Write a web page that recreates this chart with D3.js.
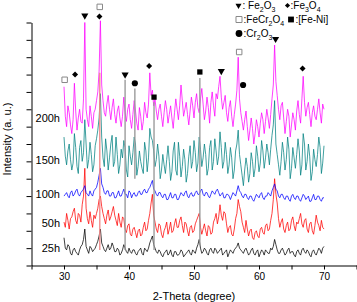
<!DOCTYPE html>
<html>
<head>
<meta charset="utf-8">
<script src="https://cdn.jsdelivr.net/npm/d3@7"></script>
<style>
  html, body { margin: 0; padding: 0; background: #fff; }
  svg { display: block; font-family: "Liberation Sans", Arial, sans-serif; }
</style>
</head>
<body>
<svg id="chart" width="357" height="302"></svg>
<script>
// XRD patterns after milling, five durations stacked with offsets.
const W = 357;
const H = 302;
const X_LEFT = 31.5;
const X_RIGHT = 356.5;
const Y_BOTTOM = 265.5;
const Y_TOP = 22.5;

// 2-theta sampling grid (deg), 30..70 every 0.2
const twoTheta = d3.range(201).map((i) => +(30 + 0.2 * i).toFixed(1));

// intensities (a.u., stacking offset included)
const i25h = [
  16, 10, 9, 12, 11, 7, 6, 9, 10, 8, 7, 6, 9, 11, 12, 15, 21, 11, 9, 7,
  11, 10, 8, 9, 10, 12, 14, 17, 21, 13, 11, 9, 8, 10, 12, 9, 10, 13, 11, 8,
  8, 10, 9, 6, 7, 9, 12, 10, 8, 7, 10, 8, 7, 9, 9, 7, 6, 8, 9, 10,
  7, 6, 10, 9, 8, 10, 13, 15, 17, 12, 10, 8, 7, 9, 8, 6, 5, 7, 8, 9,
  6, 7, 9, 6, 5, 8, 8, 6, 6, 7, 9, 8, 5, 6, 7, 8, 9, 7, 6, 9,
  8, 7, 10, 12, 15, 10, 7, 8, 10, 9, 7, 6, 9, 10, 8, 7, 10, 9, 7, 8,
  9, 10, 6, 7, 8, 9, 5, 7, 9, 8, 7, 9, 10, 11, 13, 10, 9, 8, 7, 9,
  10, 8, 6, 7, 9, 10, 7, 6, 8, 9, 5, 7, 9, 8, 6, 9, 8, 7, 7, 10,
  9, 11, 15, 12, 9, 7, 7, 9, 10, 8, 6, 7, 9, 10, 7, 8, 8, 6, 5, 8,
  9, 7, 6, 9, 10, 8, 7, 9, 8, 6, 5, 8, 9, 7, 6, 8, 10, 9, 7, 10, 11
];
const i50h = [
  25, 22, 30, 26, 21, 27, 28, 31, 33, 26, 24, 30, 29, 25, 35, 40, 56, 33, 27, 24,
  31, 26, 22, 29, 27, 30, 33, 38, 40, 34, 30, 27, 24, 29, 32, 26, 28, 31, 34, 29,
  26, 23, 30, 25, 22, 28, 27, 21, 19, 23, 24, 18, 17, 21, 22, 19, 16, 20, 21, 17,
  18, 22, 25, 20, 21, 26, 30, 36, 41, 29, 25, 21, 19, 24, 23, 18, 16, 20, 22, 25,
  18, 21, 25, 19, 20, 24, 27, 22, 22, 26, 28, 23, 19, 25, 24, 20, 17, 22, 23, 19,
  20, 24, 26, 28, 30, 22, 18, 21, 24, 20, 17, 23, 22, 18, 19, 25, 27, 30, 24, 28,
  35, 29, 26, 31, 30, 24, 19, 22, 23, 18, 17, 21, 27, 30, 38, 34, 31, 25, 22, 19,
  26, 21, 17, 20, 21, 16, 15, 19, 20, 17, 16, 21, 22, 19, 18, 23, 24, 20, 21, 26,
  30, 38, 50, 41, 36, 27, 22, 25, 27, 21, 19, 23, 25, 20, 21, 26, 28, 23, 20, 25,
  24, 27, 30, 24, 22, 26, 27, 21, 19, 24, 25, 20, 18, 23, 29, 25, 23, 20, 26, 22, 21
];
const i100h = [
  40, 41, 42, 40, 39, 42, 43, 40, 41, 43, 44, 41, 40, 42, 43, 44, 46, 42, 41, 40,
  43, 41, 40, 43, 44, 45, 48, 52, 56, 47, 45, 42, 41, 43, 43, 40, 40, 42, 42, 39,
  39, 41, 43, 40, 40, 42, 44, 41, 41, 39, 43, 42, 39, 41, 42, 40, 40, 42, 43, 41,
  41, 43, 44, 42, 42, 44, 45, 47, 49, 44, 43, 41, 40, 42, 42, 40, 39, 41, 41, 38,
  38, 40, 42, 39, 39, 41, 41, 38, 38, 40, 42, 41, 40, 42, 43, 40, 39, 41, 42, 40,
  40, 42, 43, 41, 41, 43, 44, 41, 40, 42, 42, 40, 39, 41, 43, 42, 41, 43, 44, 42,
  40, 41, 42, 39, 39, 41, 41, 40, 38, 40, 42, 41, 40, 43, 46, 43, 42, 40, 39, 41,
  41, 39, 38, 40, 40, 38, 37, 39, 41, 40, 39, 41, 42, 39, 38, 40, 40, 42, 41, 40,
  43, 45, 47, 44, 43, 40, 39, 41, 41, 39, 38, 40, 40, 38, 37, 40, 41, 39, 38, 40,
  40, 38, 37, 39, 41, 40, 38, 39, 40, 37, 37, 39, 41, 38, 38, 40, 40, 38, 37, 39, 39
];
const i150h = [
  74, 63, 58, 66, 70, 61, 55, 59, 76, 68, 57, 53, 68, 72, 60, 65, 84, 70, 56, 61,
  71, 64, 54, 58, 69, 73, 78, 85, 99, 74, 62, 57, 73, 66, 55, 62, 70, 75, 57, 60,
  74, 64, 53, 58, 67, 62, 72, 68, 55, 51, 69, 63, 58, 65, 74, 70, 52, 57, 66, 60,
  56, 53, 71, 66, 54, 62, 79, 74, 72, 66, 57, 61, 70, 63, 50, 55, 64, 58, 53, 61,
  69, 60, 49, 54, 66, 71, 55, 52, 71, 63, 51, 57, 67, 61, 48, 53, 63, 69, 56, 60,
  72, 65, 54, 59, 74, 67, 57, 62, 70, 64, 52, 56, 68, 72, 55, 60, 73, 66, 58, 63,
  77, 68, 56, 60, 71, 64, 53, 58, 68, 62, 50, 55, 66, 70, 78, 64, 58, 52, 46, 55,
  62, 57, 48, 53, 65, 60, 51, 56, 69, 63, 54, 59, 72, 66, 56, 62, 70, 65, 58, 67,
  75, 81, 95, 70, 64, 58, 52, 60, 71, 65, 55, 61, 74, 67, 50, 56, 68, 62, 56, 64,
  73, 66, 52, 58, 76, 70, 55, 60, 70, 63, 49, 54, 67, 61, 57, 64, 74, 68, 53, 59, 69
];
const i200h = [
  103, 86, 80, 92, 88, 81, 76, 84, 105, 89, 78, 85, 90, 83, 82, 96, 140, 90, 84, 80,
  92, 86, 79, 88, 90, 95, 100, 112, 141, 104, 95, 88, 86, 93, 98, 90, 84, 91, 96, 87,
  82, 89, 92, 85, 80, 86, 97, 88, 83, 90, 93, 84, 79, 87, 95, 89, 82, 78, 91, 86,
  78, 83, 94, 88, 85, 93, 111, 98, 101, 92, 96, 89, 84, 90, 93, 86, 80, 88, 95, 90,
  82, 87, 92, 85, 79, 88, 96, 90, 84, 92, 104, 95, 86, 90, 94, 87, 81, 89, 97, 92,
  85, 94, 99, 91, 88, 96, 102, 93, 84, 89, 97, 91, 82, 94, 100, 92, 86, 99, 96, 103,
  109, 97, 90, 94, 98, 88, 83, 91, 95, 86, 80, 87, 93, 101, 120, 96, 88, 83, 78, 84,
  89, 80, 72, 78, 85, 79, 70, 76, 84, 80, 74, 82, 88, 84, 76, 83, 90, 85, 79, 87,
  96, 104, 127, 106, 98, 90, 84, 92, 94, 85, 76, 83, 90, 86, 74, 81, 88, 84, 78, 89,
  95, 87, 82, 96, 109, 94, 86, 91, 94, 87, 80, 88, 92, 86, 84, 90, 96, 88, 82, 93, 90
];

const seriesNames = ["25h", "50h", "100h", "150h", "200h"];
const seriesColors = ["#000000", "#ff0000", "#0000ff", "#008080", "#ff00ff"];
const seriesValues = [i25h, i50h, i100h, i150h, i200h];

// phase markers: [symbol, 2-theta, height]
const markers = [
  ["open", 30.1, 107], ["diamond", 31.7, 110], ["tri", 33.2, 144],
  ["open", 35.5, 149], ["diamond", 35.45, 143.5], ["tri", 39.4, 110],
  ["circle", 40.9, 105], ["diamond", 43.1, 115], ["square", 43.85, 97],
  ["square", 50.9, 111.5], ["tri", 54.2, 112], ["open", 56.95, 123],
  ["circle", 57.55, 104], ["tri", 62.55, 130.5], ["diamond", 66.7, 113.5]
];

// drop lines under some peaks: [2-theta, top, bottom, colour]
const dropLines = [
  [35.5, 111, 9, "#f08a8a"],
  [39.4, 107, 9, "#999999"],
  [40.9, 102, 50, "#999999"],
  [43.85, 94, 9, "#999999"],
  [50.9, 108, 12, "#999999"]
];

// legend: symbol, text pieces as [text, isSubscript]
const legendItems = [
  ["tri", [[": Fe", 0], ["2", 1], ["O", 0], ["3", 1]]],
  ["diamond", [[":Fe", 0], ["3", 1], ["O", 0], ["4", 1]]],
  ["open", [[":FeCr", 0], ["2", 1], ["O", 0], ["4", 1]]],
  ["square", [[":[Fe-Ni]", 0]]],
  ["circle", [[":Cr", 0], ["2", 1], ["O", 0], ["3", 1]]]
];

const xTicks = d3.range(25, 76, 5);
const xTickLabels = [30, 40, 50, 60, 70];
const yTicks = d3.range(0, 141, 10);

// ---- layout ----
const LABEL_Y = [251.5, 226.5, 197.5, 164, 121.5];
const LEGEND_POS = [[238.5, 5.5, 242.5], [287.5, 5.5, 290.5], [239, 19.5, 243.5], [291, 19.5, 295.5], [239, 33.5, 243.5]];

const svg = d3.select("#chart");
const x = d3.scaleLinear().domain([25, 75]).range([X_LEFT, X_RIGHT]);
const y = d3.scaleLinear().domain([0, 140]).range([Y_BOTTOM, Y_TOP]);

const symPath = {
  tri: d3.symbol(d3.symbolTriangle, 22)(),
  diamond: d3.symbol(d3.symbolSquare, 18)(),
  open: d3.symbol(d3.symbolSquare, 30)(),
  square: d3.symbol(d3.symbolSquare, 28)(),
  circle: d3.symbol(d3.symbolCircle, 30)()
};
const symRot = { tri: 180, diamond: 45, open: 0, square: 0, circle: 0 };

function drawSymbol(g, kind, cx, cy, scale = 1) {
  g.append("path")
    .attr("d", symPath[kind])
    .attr("transform", `translate(${cx},${cy}) rotate(${symRot[kind]}) scale(${scale})`)
    .attr("fill", kind === "open" ? "#fff" : "#000")
    .attr("stroke", kind === "open" ? "#888" : "none")
    .attr("stroke-width", kind === "open" ? 1 / scale : 0);
}

// ---- traces ----
const line = d3.line()
  .x((d) => x(d[0]))
  .y((d) => y(d[1]));

svg.append("g")
  .selectAll("path")
  .data(seriesValues)
  .join("path")
  .attr("d", (vals) => line(vals.map((v, i) => [twoTheta[i], v])))
  .attr("fill", "none")
  .attr("stroke", (_, i) => seriesColors[i])
  .attr("stroke-width", 0.75)
  .attr("stroke-linejoin", "round");

// ---- drop lines ----
svg.append("g")
  .selectAll("line")
  .data(dropLines)
  .join("line")
  .attr("x1", (d) => x(d[0]))
  .attr("x2", (d) => x(d[0]))
  .attr("y1", (d) => y(d[1]))
  .attr("y2", (d) => y(d[2]))
  .attr("stroke", (d) => d[3])
  .attr("stroke-width", 1.5)
  .attr("opacity", 0.9);

// ---- axes ----
svg.append("g")
  .attr("transform", `translate(0,${Y_BOTTOM})`)
  .call(
    d3.axisBottom(x)
      .tickValues(xTicks)
      .tickFormat((d) => (xTickLabels.includes(d) ? d : ""))
      .tickSize(4)
      .tickSizeOuter(0)
  )
  .call((g) => g.attr("font-family", null))
  .call((g) => g.selectAll("text").attr("font-size", 10).attr("fill", "#000"));

svg.append("g")
  .attr("transform", `translate(${X_LEFT},0)`)
  .call(d3.axisLeft(y).tickValues(yTicks).tickFormat("").tickSize(5).tickSizeOuter(0))
  .call((g) => g.attr("font-family", null));

svg.append("text")
  .attr("x", x(50))
  .attr("y", 299.5)
  .attr("text-anchor", "middle")
  .attr("font-size", 11)
  .text("2-Theta (degree)");

svg.append("text")
  .attr("transform", "translate(11,139) rotate(-90)")
  .attr("text-anchor", "middle")
  .attr("font-size", 11)
  .text("Intensity (a. u.)");

// ---- series labels ----
svg.append("g")
  .selectAll("text")
  .data(seriesNames)
  .join("text")
  .attr("x", 60)
  .attr("y", (_, i) => LABEL_Y[i])
  .attr("text-anchor", "end")
  .attr("font-size", 11)
  .text((d) => d);

// ---- markers ----
const gMarks = svg.append("g");
for (const [kind, t, v] of markers) drawSymbol(gMarks, kind, x(t), y(v));

// ---- legend ----
const gLeg = svg.append("g");
legendItems.forEach(([kind, parts], i) => {
  const [sx, sy, tx] = LEGEND_POS[i];
  drawSymbol(gLeg, kind, sx, sy, kind === "tri" || kind === "diamond" ? 0.85 : 1.1);
  const txt = gLeg.append("text")
    .attr("x", tx)
    .attr("y", sy + 3.5)
    .attr("font-size", 10);
  let low = false;
  for (const [s, sub] of parts) {
    const dy = sub && !low ? 2.5 : !sub && low ? -2.5 : 0;
    low = !!sub;
    txt.append("tspan")
      .attr("font-size", sub ? 7 : 10)
      .attr("dy", dy)
      .text(s);
  }
});
</script>
</body>
</html>
